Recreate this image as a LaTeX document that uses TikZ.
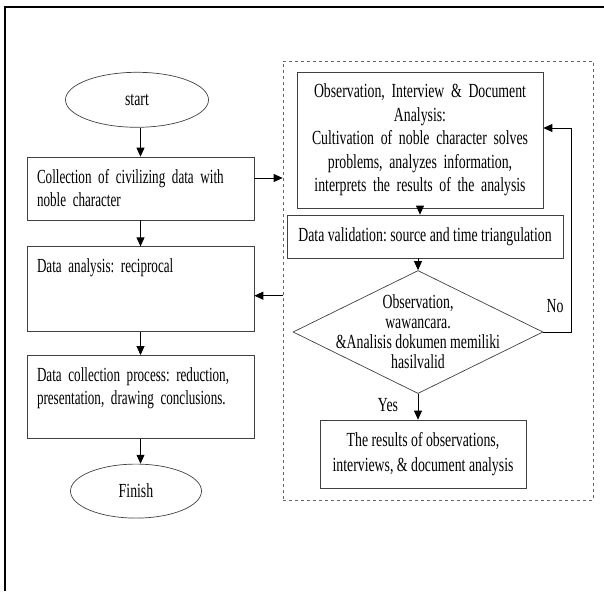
\documentclass[tikz,border=0pt]{standalone}
\usepackage{fontspec}
\setmainfont{Liberation Serif}[FakeStretch=0.69]
\newfontfamily\leftfont{Liberation Serif}[FakeStretch=0.655]
\usetikzlibrary{arrows.meta,positioning,shapes.geometric}
\frenchspacing

\begin{document}
\begin{tikzpicture}[
  x=1pt, y=-1pt,
  node distance=25pt,
  every node/.style={font=\fontsize{20}{23.5}\selectfont},
  lbox/.style={rectangle, draw=black!75, line width=0.7pt, text width=207pt,
    align=left, inner xsep=10pt, inner ysep=12pt, text height=14pt,
    font=\leftfont\fontsize{20}{23}\selectfont},
  cbox/.style={rectangle, draw=black!75, line width=0.7pt, align=center,
    inner xsep=4.5pt, inner ysep=4pt},
  term/.style={ellipse, draw=black!75, line width=0.7pt, inner sep=0pt},
  arr/.style={-{Triangle[length=9pt,width=8pt]}, line width=0.8pt},
]

\useasboundingbox (0,0) rectangle (604,591);

% outer frame (cut off at right and bottom)
\draw[line width=2.5pt] (5,591) -- (5,7) -- (604,7);

% Left column (top to bottom)
\node[lbox, text depth=25pt] (coll) at (140.5,188.5) {Collection of civilizing data with\\
  noble character};

\node[term, minimum width=143pt, minimum height=55pt, above=29pt of coll,
  xshift=-3.5pt] (start) {start};

\node[lbox, text depth=47pt, below=26pt of coll] (ana) {Data analysis: reciprocal};

\node[lbox, text depth=45pt, below=23pt of ana] (proc) {Data collection process: reduction,\\
  presentation, drawing conclusions.};

\node[term, minimum width=131pt, minimum height=54pt, below=25pt of proc,
  xshift=-4.5pt] (finish) {Finish};

% Right block (dashed group)
\node[draw=black!60, dashed, line width=0.7pt, minimum width=310pt,
  minimum height=439pt, inner sep=0pt] (grp) at (438,280.5) {};

\node[cbox, text width=237pt, minimum height=136pt] (obs) at (420,140)
  {Observation, Interview \& Document\\ Analysis:\\
   Cultivation of noble character solves\\ problems, analyzes information,\\
   interprets the results of the analysis};

\node[cbox, minimum width=276pt, minimum height=43pt] (val) at (425,236.5)
  {Data validation: source and time triangulation};

\node[diamond, draw=black!75, line width=0.7pt, minimum width=250pt,
  minimum height=123pt, inner sep=0pt,
  label={[align=center, font=\fontsize{20}{20}\selectfont]center:{Observation,\\
    wawancara.\\ \&Analisis dokumen memiliki\\ hasilvalid}}] (dia) at (418,332) {};

\node[cbox, minimum width=206pt, minimum height=68pt] (res) at (423,454)
  {The results of observations,\\[2pt] interviews, \& document analysis};

% Arrows
\draw[arr] (start.south -| coll.north) -- (coll.north);
\draw[arr] (coll) -- (ana);
\draw[arr] (ana) -- (proc);
\draw[arr] (proc.south) -- (proc.south |- finish.north);

\coordinate (c1) at ([yshift=10.5pt]coll.east);
\draw[arr] (c1) -- (c1 -| grp.west);
\coordinate (c2) at ([yshift=-6.5pt]ana.east);
\draw[arr] (c2 -| grp.west) -- (c2);

\draw[arr] (obs.south) -- (obs.south |- val.north);
\draw[arr] (val.south -| dia.north) -- (dia.north);
\draw[arr] (dia.south) -- (dia.south |- res.north);
\draw[arr] (dia.east) -- ++(28,0) |- ([yshift=12pt]obs.east);

% Branch labels
\node (no) at (555,306) {No};
\node (yes) at (388,405) {Yes};

\end{tikzpicture}
\end{document}
